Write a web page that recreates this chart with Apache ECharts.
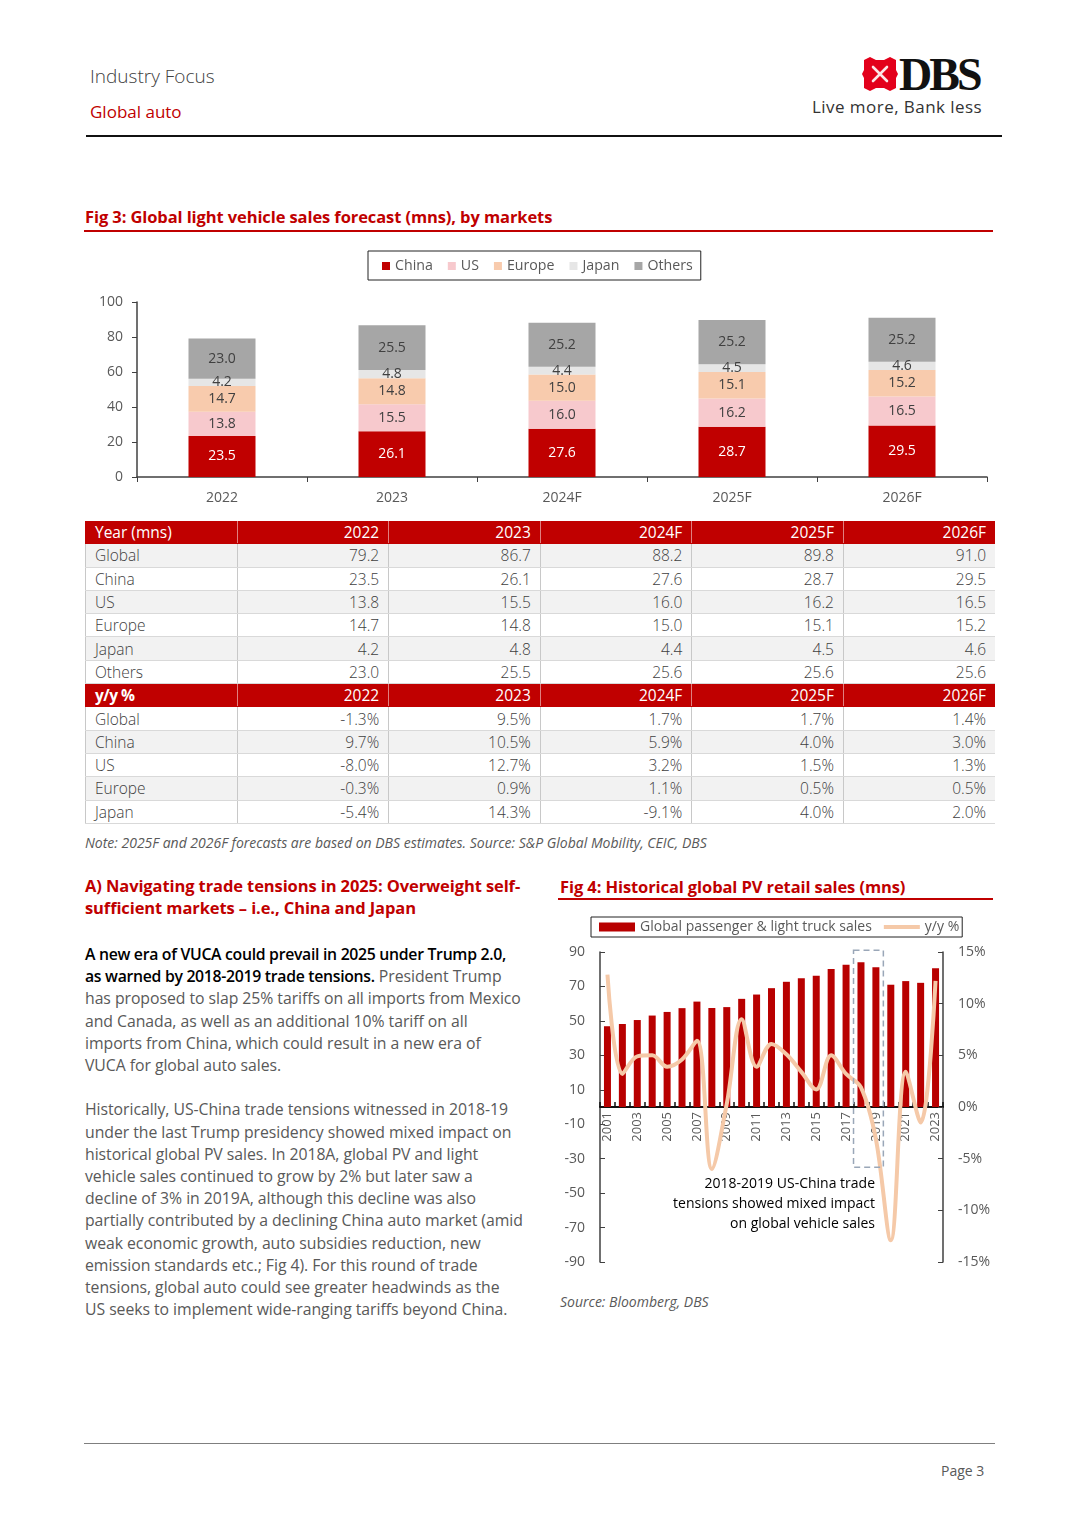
<!DOCTYPE html>
<html>
<head>
<meta charset="utf-8">
<script src="https://cdn.jsdelivr.net/npm/echarts@6/dist/echarts.min.js"></script>
<style>
  html, body { margin:0; padding:0; background:#fff; }
  body { width:1080px; height:1527px; position:relative; overflow:hidden; font-family:"Open Sans", sans-serif; }
  .abs { position:absolute; white-space:nowrap; }
  .red { color:#C00000; }
  .figtitle { font-weight:700; font-size:16.5px; color:#C00000; letter-spacing:-0.1px; }
  .rule-red { position:absolute; height:2px; background:#C00000; }
  table.dt { position:absolute; left:85px; top:521px; width:910px; border-collapse:collapse; table-layout:fixed; font-size:15.5px; font-weight:300; color:#404040; }
  table.dt td { height:22.3px; padding:0 9px; border-bottom:1px solid #D9D9D9; border-left:1px solid #C8C8C8; line-height:22px; overflow:hidden; white-space:nowrap; }
  table.dt td.num { text-align:right; }
  table.dt tr.hdr td { background:#C00000; color:#fff; font-weight:400; border-left:1px solid #E08080; border-bottom:1px solid #C00000; }
  table.dt tr.hdr td:first-child { border-left:1px solid #C00000; }
  table.dt tr.gray td { background:#F2F2F2; }
  .body { font-size:15.8px; color:#595959; line-height:22.2px; letter-spacing:-0.05px; }
  .lead { color:#000; font-weight:600; letter-spacing:-0.3px; }
</style>
</head>
<body>
<!-- Header -->
<div class="abs" style="left:90px; top:63px; font-size:19px; color:#404040; font-weight:300;">Industry Focus</div>
<div class="abs red" style="left:90px; top:100px; font-size:17px;">Global auto</div>
<svg class="abs" style="left:862px; top:57px;" width="36" height="34" viewBox="0 0 36 34">
  <path d="M2 3 L8 0 L14 3 L22 3 L28 0 L34 3 L34 13 L36 17 L34 21 L34 31 L28 34 L22 31 L14 31 L8 34 L2 31 L2 21 L0 17 L2 13 Z" fill="#E3001B"/>
  <path d="M11 10 L25 24 M25 10 L11 24" stroke="#fff" stroke-width="2.6" stroke-linecap="round" opacity="0.9"/>
</svg>
<div class="abs" style="left:899px; top:48px; font-family:'Liberation Serif','DejaVu Serif',serif; font-weight:700; font-size:46px; letter-spacing:-3px; color:#111;">DBS</div>
<div class="abs" style="left:812px; top:95px; font-size:17px; letter-spacing:0.45px; color:#333;">Live more, Bank less</div>
<div style="position:absolute; left:86px; top:135px; width:916px; height:2px; background:#111;"></div>

<!-- Fig 3 -->
<div class="abs figtitle" style="left:85px; top:205px;">Fig 3: Global light vehicle sales forecast (mns), by markets</div>
<div class="rule-red" style="left:84px; top:230px; width:909px;"></div>
<div id="fig3" style="position:absolute; left:84px; top:240px; width:916px; height:280px;"></div>

<table class="dt" id="dt"></table>
<div class="abs" style="left:85px; top:833px; font-size:14px; font-style:italic; color:#595959; letter-spacing:0px;">Note: 2025F and 2026F forecasts are based on DBS estimates. Source: S&amp;P Global Mobility, CEIC, DBS</div>

<!-- Section A -->
<div class="abs figtitle" style="left:85px; top:875px; line-height:22px;">A) Navigating trade tensions in 2025: Overweight self-<br>sufficient markets – i.e., China and Japan</div>
<div class="abs body" style="left:85px; top:943px;"><span class="lead">A new era of VUCA could prevail in 2025 under Trump 2.0,<br>as warned by 2018-2019 trade tensions.</span> President Trump<br>has proposed to slap 25% tariffs on all imports from Mexico<br>and Canada, as well as an additional 10% tariff on all<br>imports from China, which could result in a new era of<br>VUCA for global auto sales.<br><br>Historically, US-China trade tensions witnessed in 2018-19<br>under the last Trump presidency showed mixed impact on<br>historical global PV sales. In 2018A, global PV and light<br>vehicle sales continued to grow by 2% but later saw a<br>decline of 3% in 2019A, although this decline was also<br>partially contributed by a declining China auto market (amid<br>weak economic growth, auto subsidies reduction, new<br>emission standards etc.; Fig 4). For this round of trade<br>tensions, global auto could see greater headwinds as the<br>US seeks to implement wide-ranging tariffs beyond China.</div>

<!-- Fig 4 -->
<div class="abs figtitle" style="left:560px; top:875px;">Fig 4: Historical global PV retail sales (mns)</div>
<div class="rule-red" style="left:558px; top:898px; width:435px;"></div>
<div id="fig4" style="position:absolute; left:555px; top:910px; width:445px; height:370px;"></div>
<div class="abs" style="left:560px; top:1292px; font-size:14px; font-style:italic; color:#595959;">Source: Bloomberg, DBS</div>

<!-- Footer -->
<div style="position:absolute; left:84px; top:1443px; width:911px; height:1px; background:#7F7F7F;"></div>
<div class="abs" style="left:941px; top:1461px; font-size:14px; color:#595959;">Page 3</div>

<script>
// ---------- Fig 3 data ----------
const fig3Years  = ['2022', '2023', '2024F', '2025F', '2026F'];
const fig3China  = [23.5, 26.1, 27.6, 28.7, 29.5];
const fig3US     = [13.8, 15.5, 16.0, 16.2, 16.5];
const fig3Europe = [14.7, 14.8, 15.0, 15.1, 15.2];
const fig3Japan  = [4.2, 4.8, 4.4, 4.5, 4.6];
const fig3Others = [23.0, 25.5, 25.2, 25.2, 25.2];

// ---------- Table data ----------
const tableYears   = ['2022', '2023', '2024F', '2025F', '2026F'];
const volGlobal    = [79.2, 86.7, 88.2, 89.8, 91.0];
const volChina     = [23.5, 26.1, 27.6, 28.7, 29.5];
const volUS        = [13.8, 15.5, 16.0, 16.2, 16.5];
const volEurope    = [14.7, 14.8, 15.0, 15.1, 15.2];
const volJapan     = [4.2, 4.8, 4.4, 4.5, 4.6];
const volOthers    = [23.0, 25.5, 25.6, 25.6, 25.6];
const yoyGlobal    = [-1.3, 9.5, 1.7, 1.7, 1.4];
const yoyChina     = [9.7, 10.5, 5.9, 4.0, 3.0];
const yoyUS        = [-8.0, 12.7, 3.2, 1.5, 1.3];
const yoyEurope    = [-0.3, 0.9, 1.1, 0.5, 0.5];
const yoyJapan     = [-5.4, 14.3, -9.1, 4.0, 2.0];

// ---------- Fig 4 data ----------
const fig4Years = ['2001','2002','2003','2004','2005','2006','2007','2008','2009','2010','2011','2012',
                   '2013','2014','2015','2016','2017','2018','2019','2020','2021','2022','2023'];
const fig4Sales = [46.9, 48.2, 50.5, 53.1, 55.2, 57.4, 61.2, 57.5, 58.0, 62.8, 65.3, 69.0,
                   72.7, 74.8, 76.2, 80.1, 82.6, 84.0, 81.1, 71.0, 73.1, 72.1, 80.5];
const fig4Yoy   = [12.8, 3.2, 4.9, 5.0, 3.9, 4.6, 6.4, -6.0, 0.3, 8.5, 3.9, 6.1,
                   5.1, 3.4, 1.7, 5.0, 3.2, 1.9, -3.1, -12.9, 3.4, -1.5, 12.2];
const tensionYears = ['2018', '2019'];
const tensionRange = [-35, 91];
const annotationLines = ['2018-2019 US-China trade', 'tensions showed mixed impact', 'on global vehicle sales'];

// ---------- Table ----------
(function buildTable() {
  const t = document.getElementById('dt');
  let html = '<colgroup>' + '<col style="width:151.6px">'.repeat(6) + '</colgroup>';
  const hdr = (label) => '<tr class="hdr"><td' + (label === 'y/y %' ? ' style="font-weight:700;letter-spacing:-0.5px"' : '') + '>' + label + '</td>' +
      tableYears.map(y => '<td class="num">' + y + '</td>').join('') + '</tr>';
  const row = (label, arr, gray, pct) => '<tr' + (gray ? ' class="gray"' : '') + '><td>' + label + '</td>' +
      arr.map(v => '<td class="num">' + v.toFixed(1) + (pct ? '%' : '') + '</td>').join('') + '</tr>';
  html += hdr('Year (mns)');
  html += row('Global', volGlobal, true) + row('China', volChina, false) + row('US', volUS, true) +
          row('Europe', volEurope, false) + row('Japan', volJapan, true) + row('Others', volOthers, false);
  html += hdr('y/y %');
  html += row('Global', yoyGlobal, false, true) + row('China', yoyChina, true, true) + row('US', yoyUS, false, true) +
          row('Europe', yoyEurope, true, true) + row('Japan', yoyJapan, false, true);
  t.innerHTML = html;
})();

// ---------- Fig 3 chart ----------
const FONT = 'Open Sans';
const c3 = echarts.init(document.getElementById('fig3'), null, { renderer: 'canvas' });
function stackSeries(name, data, color, labelColor) {
  return {
    name, type: 'bar', stack: 'total', data, barWidth: 67,
    itemStyle: { color },
    label: { show: true, position: 'inside', color: labelColor, fontFamily: FONT, fontSize: 14,
             formatter: p => p.value.toFixed(1) }
  };
}
c3.setOption({
  animation: false,
  textStyle: { fontFamily: FONT },
  legend: {
    top: 11, left: 284,
    data: ['China', 'US', 'Europe', 'Japan', 'Others'],
    icon: 'rect', itemWidth: 8, itemHeight: 8, itemGap: 15,
    borderColor: '#222', borderWidth: 1, padding: [8, 8, 7, 14],
    textStyle: { color: '#595959', fontSize: 14.2, fontFamily: FONT }
  },
  grid: { left: 53, right: 13, top: 62, bottom: 43, outerBoundsMode: 'none' },
  xAxis: {
    type: 'category', data: fig3Years,
    axisLine: { lineStyle: { color: '#404040', width: 1.5 } },
    axisTick: { show: true, length: 5, lineStyle: { color: '#404040' } },
    axisLabel: { color: '#595959', fontSize: 14, margin: 14, fontFamily: FONT }
  },
  yAxis: {
    type: 'value', min: 0, max: 100, interval: 20,
    axisLine: { show: true, lineStyle: { color: '#404040', width: 1.5 } },
    axisTick: { show: true, length: 5, lineStyle: { color: '#404040' } },
    splitLine: { show: false },
    axisLabel: { color: '#595959', fontSize: 14, margin: 14, fontFamily: FONT }
  },
  series: [
    stackSeries('China', fig3China, '#C00000', '#fff'),
    stackSeries('US', fig3US, '#F7C9CD', '#404040'),
    stackSeries('Europe', fig3Europe, '#F8CBAD', '#404040'),
    stackSeries('Japan', fig3Japan, '#E6E6E6', '#404040'),
    stackSeries('Others', fig3Others, '#A6A6A6', '#404040')
  ]
});

// ---------- Fig 4 chart ----------
const c4 = echarts.init(document.getElementById('fig4'), null, { renderer: 'canvas' });
const iFrom = fig4Years.indexOf(tensionYears[0]);
const iTo = fig4Years.indexOf(tensionYears[1]);
const G4 = { left: 45, right: 57, top: 42, bottom: 18 };
const plotH4 = 370 - G4.top - G4.bottom;
c4.setOption({
  animation: false,
  textStyle: { fontFamily: FONT },
  legend: {
    top: 7, left: 36,
    data: [
      { name: 'Global passenger & light truck sales', icon: 'rect' },
      { name: 'y/y %', icon: 'path://M0,0 L36,0 L36,4 L0,4 Z' }
    ],
    itemWidth: 36, itemHeight: 9, itemGap: 12,
    borderColor: '#222', borderWidth: 1, padding: [3, 3, 3, 8],
    textStyle: { color: '#595959', fontSize: 14, fontFamily: FONT }
  },
  grid: Object.assign({ outerBoundsMode: 'none', containLabel: false }, G4),
  xAxis: {
    type: 'category', data: fig4Years,
    offset: -plotH4 / 2,
    axisLine: { onZero: false, lineStyle: { color: '#111', width: 2 } },
    axisTick: { show: true, inside: true, length: 5, interval: 0, lineStyle: { color: '#111', width: 1.5 } },
    axisLabel: { interval: 1, rotate: 90, color: '#595959', fontSize: 13, margin: 5, fontFamily: FONT }
  },
  yAxis: [
    {
      type: 'value', min: -90, max: 90, interval: 20,
      axisLine: { show: true, lineStyle: { color: '#404040', width: 1.5 } },
      axisTick: { show: true, inside: true, length: 5, lineStyle: { color: '#404040' } },
      splitLine: { show: false },
      axisLabel: { color: '#595959', fontSize: 14, margin: 15, fontFamily: FONT }
    },
    {
      type: 'value', min: -15, max: 15, interval: 5,
      axisLine: { show: true, lineStyle: { color: '#404040', width: 1.5 } },
      axisTick: { show: true, inside: true, length: 5, lineStyle: { color: '#404040' } },
      splitLine: { show: false },
      axisLabel: { color: '#595959', fontSize: 14, margin: 15, fontFamily: FONT, formatter: '{value}%' }
    }
  ],
  series: [
    {
      name: 'Global passenger & light truck sales', type: 'bar', data: fig4Sales,
      barWidth: 7, itemStyle: { color: '#B80000' }, yAxisIndex: 0
    },
    {
      name: 'tension-box', type: 'custom', yAxisIndex: 0, z: 5, silent: true,
      data: [[iFrom, iTo, tensionRange[0], tensionRange[1]]],
      renderItem: function (params, api) {
        const band = api.size([1, 0])[0];
        const p1 = api.coord([api.value(0), api.value(3)]);
        const p2 = api.coord([api.value(1), api.value(2)]);
        const x1 = p1[0] - band / 2, x2 = p2[0] + band / 2;
        return {
          type: 'rect',
          shape: { x: x1, y: p1[1], width: x2 - x1, height: p2[1] - p1[1] },
          style: { fill: 'none', stroke: '#9AA7B8', lineWidth: 1.5, lineDash: [6, 4] }
        };
      }
    },
    {
      name: 'y/y %', type: 'line', data: fig4Yoy, yAxisIndex: 1, smooth: 0.35,
      symbol: 'none', z: 4,
      lineStyle: { color: '#F5C9A8', width: 4 }, itemStyle: { color: '#F5C9A8' }
    }
  ],
  graphic: [{
    type: 'text', x: 320, y: 264,
    style: {
      text: annotationLines.join('\n'), align: 'right', verticalAlign: 'top', lineHeight: 20,
      fill: '#000', font: '14px "Open Sans"'
    }
  }]
});
</script>
</body>
</html>
